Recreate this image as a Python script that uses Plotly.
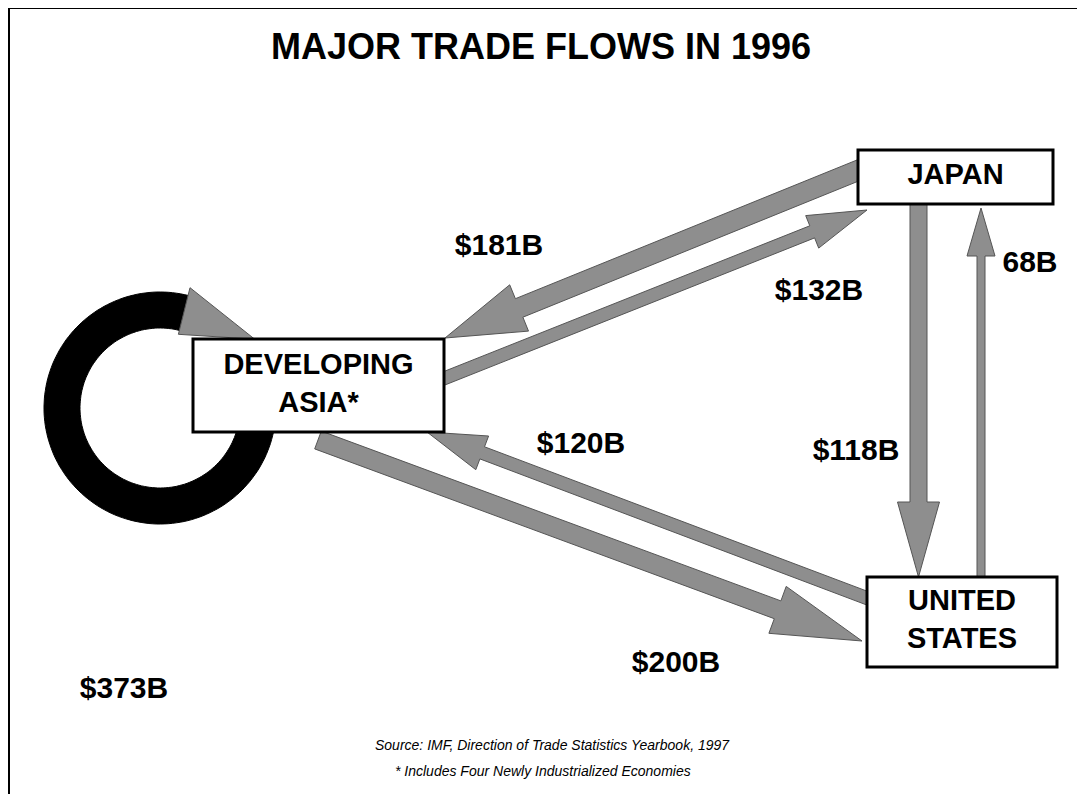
import numpy as np
import plotly.graph_objects as go

# ---------------- data ----------------
title_text = "MAJOR TRADE FLOWS IN 1996"
node_names = ["JAPAN", "DEVELOPING ASIA*", "UNITED STATES"]
node_lines = ["JAPAN", "DEVELOPING<br>ASIA*", "UNITED<br>STATES"]
flow_from = ["JAPAN", "DEVELOPING ASIA*", "DEVELOPING ASIA*", "UNITED STATES", "JAPAN", "UNITED STATES", "DEVELOPING ASIA*"]
flow_to = ["DEVELOPING ASIA*", "JAPAN", "UNITED STATES", "DEVELOPING ASIA*", "UNITED STATES", "JAPAN", "DEVELOPING ASIA*"]
flow_values = [181, 132, 200, 120, 118, 68, 373]
flow_labels = ["$181B", "$132B", "$200B", "$120B", "$118B", "68B", "$373B"]
source_lines = ["Source: IMF, Direction of Trade Statistics Yearbook, 1997",
                "* Includes Four Newly Industrialized Economies"]

# ---------------- layout geometry (pixel canvas) ----------------
W, H = 1085, 794
OFF = 8  # page body margin
BOX = {  # x0, y0, x1, y1
    "JAPAN": (858, 150, 1053, 204),
    "DEVELOPING ASIA*": (193, 339, 444, 432),
    "UNITED STATES": (867, 577, 1057, 667),
}
# straight arrows: start, tip, shaft width, head width, head length
ARROWS = {
    0: ((864, 168), (445, 338), 20, 50, 80),
    1: ((440, 380), (867, 210), 13, 35, 59),
    2: ((318, 440), (862, 641), 19, 50, 90),
    3: ((872, 600), (427, 432), 13, 36, 59),
    4: ((918.5, 200), (918.5, 577), 17, 42, 75),
    5: ((981, 577), (981, 208), 8, 28, 48),
}
LABEL_POS = {0: (499, 247), 1: (819, 292), 2: (676, 664), 3: (581, 445),
             4: (856, 452), 5: (1030, 264), 6: (124, 690)}
RING = dict(cx=160, cy=408, r_in=80, r_out=116, a0=76, a1=385,
            head_r_in=76, head_r_out=124, tip_angle=36, tip_r=117)

GRAY = "#8e8e8e"
EDGE = "#555555"
SANS = "Liberation Sans, Arial, sans-serif"


def arrow_path(p0, p1, w, hw, hl):
    p0 = np.array(p0, float)
    p1 = np.array(p1, float)
    u = (p1 - p0) / np.linalg.norm(p1 - p0)
    n = np.array([-u[1], u[0]])
    base = p1 - u * hl
    pts = [p0 + n * w / 2, base + n * w / 2, base + n * hw / 2, p1,
           base - n * hw / 2, base - n * w / 2, p0 - n * w / 2]
    return "M " + " L ".join(f"{x:.1f},{y:.1f}" for x, y in pts) + " Z"


def polar(r, a_deg):
    a = np.radians(a_deg)
    return RING["cx"] + r * np.cos(a), RING["cy"] - r * np.sin(a)


shapes = []
# frame
shapes.append(dict(type="line", x0=9, x1=W + 5, y0=8, y1=8, line=dict(color="black", width=2), layer="below"))
shapes.append(dict(type="line", x0=9, x1=9, y0=8, y1=H + 5, line=dict(color="black", width=2), layer="below"))

# ring (self-trade flow)
angs = np.linspace(RING["a0"], RING["a1"], 160)
outer = [polar(RING["r_out"], a) for a in angs]
inner = [polar(RING["r_in"], a) for a in angs[::-1]]
ring_pts = outer + inner
shapes.append(dict(type="path", layer="below",
                   path="M " + " L ".join(f"{x:.1f},{y:.1f}" for x, y in ring_pts) + " Z",
                   fillcolor="black", line=dict(color="black", width=1)))
hp = [polar(RING["head_r_out"], RING["a0"]), polar(RING["tip_r"], RING["tip_angle"]),
      polar(RING["head_r_in"], RING["a0"])]
shapes.append(dict(type="path", layer="below",
                   path="M " + " L ".join(f"{x:.1f},{y:.1f}" for x, y in hp) + " Z",
                   fillcolor=GRAY, line=dict(color=EDGE, width=1)))

# straight arrows
for i in range(len(flow_values)):
    if i in ARROWS:
        p0, p1, w, hw, hl = ARROWS[i]
        shapes.append(dict(type="path", layer="below", path=arrow_path(p0, p1, w, hw, hl),
                           fillcolor=GRAY, line=dict(color=EDGE, width=1)))

# node boxes
for name in node_names:
    x0, y0, x1, y1 = BOX[name]
    shapes.append(dict(type="rect", layer="below", x0=x0, y0=y0, x1=x1, y1=y1,
                       fillcolor="white", line=dict(color="black", width=3)))

fig = go.Figure()

# node labels
fig.add_trace(go.Scatter(
    x=[(BOX[n][0] + BOX[n][2]) / 2 for n in node_names],
    y=[(BOX[n][1] + BOX[n][3]) / 2 for n in node_names],
    text=[f"<b>{t}</b>" for t in node_lines],
    mode="text", textposition="middle center",
    textfont=dict(family=SANS, size=29, color="black"),
    hoverinfo="skip", showlegend=False))

# flow labels
fig.add_trace(go.Scatter(
    x=[LABEL_POS[i][0] for i in range(len(flow_labels))],
    y=[LABEL_POS[i][1] for i in range(len(flow_labels))],
    text=[f"<b>{t}</b>" for t in flow_labels],
    customdata=np.stack([flow_from, flow_to, flow_values], axis=-1),
    mode="text", textposition="middle center",
    textfont=dict(family=SANS, size=30, color="black"),
    hovertemplate="%{customdata[0]} → %{customdata[1]}: $%{customdata[2]}B<extra></extra>",
    showlegend=False))

annotations = [
    dict(x=541, y=46, xref="x", yref="y", text=f"<b>{title_text}</b>", showarrow=False,
         font=dict(family=SANS, size=36, color="black"), xanchor="center", yanchor="middle"),
    dict(x=373, y=745, xref="x", yref="y", text=f"<i>{source_lines[0]}</i>", showarrow=False,
         font=dict(family=SANS, size=14, color="black"),
         xanchor="left", yanchor="middle"),
    dict(x=393, y=771, xref="x", yref="y", text=f"<i>{source_lines[1]}</i>", showarrow=False,
         font=dict(family=SANS, size=14, color="black"),
         xanchor="left", yanchor="middle"),
]

fig.update_layout(
    width=W - OFF, height=H - OFF, margin=dict(l=0, r=0, t=0, b=0),
    paper_bgcolor="white", plot_bgcolor="white",
    xaxis=dict(range=[OFF, W], visible=False, fixedrange=True),
    yaxis=dict(range=[H, OFF], visible=False, fixedrange=True),
    shapes=shapes, annotations=annotations, showlegend=False,
)

fig.write_html("out.html")
